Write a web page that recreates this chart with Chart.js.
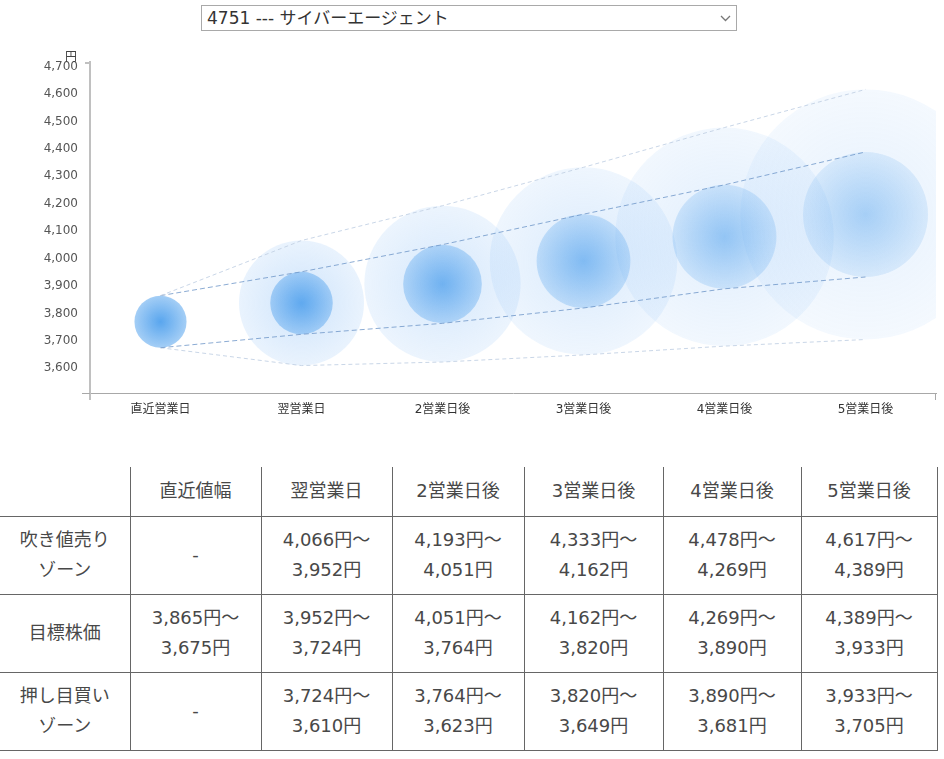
<!DOCTYPE html>
<html lang="ja">
<head>
<meta charset="utf-8">
<title>4751 サイバーエージェント 予想株価</title>
<script src="https://cdn.jsdelivr.net/npm/chart.js@4.4.1/dist/chart.umd.min.js"></script>
<style>
  html, body { margin: 0; padding: 0; background: #fff; }
  body {
    width: 944px; height: 759px; position: relative; overflow: hidden;
    font-family: 'DejaVu Sans', 'Noto Sans CJK JP', sans-serif; color: #444;
  }
  #stock {
    position: absolute; left: 201px; top: 5px; width: 536px; height: 26px;
    box-sizing: border-box; padding: 0 0 0 5px; margin: 0;
    border: 1px solid #a9a9a9; border-radius: 0; color: #333;
    font: 17px 'DejaVu Sans', 'Noto Sans CJK JP', sans-serif;
    -webkit-appearance: none; appearance: none;
    background: #fff url("data:image/svg+xml,%3Csvg xmlns='http://www.w3.org/2000/svg' width='11' height='7'%3E%3Cpath d='M1 1l4.5 4.5L10 1' fill='none' stroke='%23777' stroke-width='1.3'/%3E%3C/svg%3E") no-repeat right 5px center;
  }
  #chart-box { position: absolute; left: 0; top: 36px; width: 944px; height: 400px; }
  #zone-table {
    position: absolute; left: 0; top: 467px; width: 937px;
    border-collapse: collapse; table-layout: fixed;
  }
  #zone-table th, #zone-table td {
    border: 1px solid #666; padding: 0; text-align: center; vertical-align: middle;
    font-weight: normal; font-size: 18px; line-height: 30px; color: #484848;
  }
  #zone-table thead th { border-top: none; }
  #zone-table tr > :first-child { border-left: none; }
  #zone-table thead tr { height: 49px; }
  #zone-table tbody tr { height: 78px; }
</style>
</head>
<body>
<select id="stock"><option>4751 --- サイバーエージェント</option></select>
<div id="chart-box"><canvas id="zone-chart"></canvas></div>
<table id="zone-table">
  <colgroup>
    <col style="width:130px"><col style="width:131px"><col style="width:131px"><col style="width:132px">
    <col style="width:139px"><col style="width:138px"><col style="width:136px">
  </colgroup>
  <thead><tr id="head-row"><th></th></tr></thead>
  <tbody id="zone-body"></tbody>
</table>
<script>
// categories
const labels = ['直近営業日', '翌営業日', '2営業日後', '3営業日後', '4営業日後', '5営業日後'];
const tableHeads = ['直近値幅', '翌営業日', '2営業日後', '3営業日後', '4営業日後', '5営業日後'];

// price bands (円)
const sellHigh   = [null, 4066, 4193, 4333, 4478, 4617];   // top of 吹き値売りゾーン
const targetHigh = [3865, 3952, 4051, 4162, 4269, 4389];   // 目標株価 upper
const targetLow  = [3675, 3724, 3764, 3820, 3890, 3933];   // 目標株価 lower
const buyLow     = [null, 3610, 3623, 3649, 3681, 3705];   // bottom of 押し目買いゾーン

// y axis
const yMin = 3510;
const yMax = 4717;
const yTicks = [3600, 3700, 3800, 3900, 4000, 4100, 4200, 4300, 4400, 4500, 4600, 4700];

const fmt = v => v.toLocaleString('en-US');

// dashed guide lines start from today's target band
const outerTop = sellHigh.map((v, i) => v ?? targetHigh[i]);
const outerBottom = buyLow.map((v, i) => v ?? targetLow[i]);

const midOf = (hi, lo) => hi.map((v, i) => v == null ? null : (v + lo[i]) / 2);

// radius of a band in pixels, taken from the y scale
function bandRadius(hi, lo) {
    return ctx => {
        const i = ctx.dataIndex;
        if (ctx.type !== 'data' || hi[i] == null) return 0;
        const y = ctx.chart.scales.y;
        const r = Math.abs(y.getPixelForValue(lo[i]) - y.getPixelForValue(hi[i])) / 2;
        return isFinite(r) ? r : 0;
    };
}

// radial fill, fading further out in time
function bandFill(hi, lo, rgb, alphaAt) {
    return ctx => {
        const i = ctx.dataIndex;
        if (ctx.type !== 'data' || hi[i] == null) return 'rgba(0,0,0,0)';
        const { x, y } = ctx.chart.scales;
        const cx = x.getPixelForValue(i);
        const top = y.getPixelForValue(hi[i]);
        const bottom = y.getPixelForValue(lo[i]);
        const cy = (top + bottom) / 2, r = Math.abs(bottom - top) / 2;
        if (!isFinite(cx) || !isFinite(cy) || !(r > 0)) return 'rgba(0,0,0,0)';
        const [a0, a1] = alphaAt(i);
        const g = ctx.chart.ctx.createRadialGradient(cx, cy, 0, cx, cy, r);
        g.addColorStop(0, `rgba(${rgb},${a0})`);
        g.addColorStop(1, `rgba(${rgb},${a1})`);
        return g;
    };
}

const innerAlpha = i => { const a = 0.85 - 0.095 * i; return [a, a * (0.55 - 0.04 * i)]; };
const outerAlpha = i => { const a = 0.36 - 0.045 * (i - 1); return [a, a * 0.45]; };

function bandSet(label, hi, lo, rgb, alphaAt, order) {
    return {
        label, order, data: midOf(hi, lo), showLine: false, clip: 0,
        pointRadius: bandRadius(hi, lo),
        pointHoverRadius: bandRadius(hi, lo),
        pointBackgroundColor: bandFill(hi, lo, rgb, alphaAt),
        pointBorderWidth: 0
    };
}

function guideLine(data, color, width, dash) {
    return {
        data, order: 0,
        borderColor: color, borderWidth: width, borderDash: dash,
        pointRadius: 0, fill: false, tension: 0, clip: false
    };
}

// axis extras: caps and overhangs, plus the 円 unit
const axisExtras = {
    id: 'axisExtras',
    afterDraw(chart) {
        const { ctx, chartArea: a } = chart;
        ctx.save();
        ctx.strokeStyle = '#c0c0c0';
        ctx.lineWidth = 2;
        ctx.beginPath();
        ctx.moveTo(a.left, a.bottom);
        ctx.lineTo(a.left, a.bottom + 7);
        ctx.moveTo(a.left - 5, a.top + 1);
        ctx.lineTo(a.left, a.top + 1);
        ctx.stroke();
        ctx.strokeStyle = '#a8a8a8';
        ctx.lineWidth = 1;
        ctx.beginPath();
        ctx.moveTo(a.left - 8, a.bottom + 0.5);
        ctx.lineTo(a.left, a.bottom + 0.5);
        ctx.moveTo(a.right - 0.5, a.bottom);
        ctx.lineTo(a.right - 0.5, a.bottom + 7);
        ctx.stroke();
        ctx.fillStyle = '#444';
        ctx.font = "12px 'Noto Sans CJK JP', sans-serif";
        ctx.textAlign = 'center';
        ctx.textBaseline = 'middle';
        ctx.fillText('円', a.left - 19, a.top - 6);
        ctx.restore();
    }
};

Chart.defaults.font.family = "'DejaVu Sans', 'Noto Sans CJK JP', sans-serif";

function initChart() {
    const ctx = document.getElementById('zone-chart').getContext('2d');
    new Chart(ctx, {
        type: 'line',
        data: {
            labels,
            datasets: [
                guideLine(outerTop, 'rgba(195,210,228,0.9)', 1, [4, 3]),
                guideLine(targetHigh, 'rgba(110,150,200,0.8)', 1, [5, 3]),
                guideLine(targetLow, 'rgba(110,150,200,0.8)', 1, [5, 3]),
                guideLine(outerBottom, 'rgba(195,210,228,0.9)', 1, [4, 3]),
                bandSet('目標株価', targetHigh, targetLow, '60,150,235', innerAlpha, 1),
                bandSet('ゾーン', sellHigh, buyLow, '120,180,245', outerAlpha, 2)
            ]
        },
        options: {
            responsive: true,
            maintainAspectRatio: false,
            animation: false,
            events: [],
            layout: { padding: { top: 26, right: 8, left: 0, bottom: 0 } },
            plugins: { legend: { display: false }, tooltip: { enabled: false } },
            scales: {
                x: {
                    type: 'category', offset: true,
                    grid: { display: false, drawTicks: false },
                    border: { color: '#a8a8a8', width: 1 },
                    ticks: { color: '#333', font: { size: 12 }, padding: 10, maxRotation: 0 },
                    afterFit: s => { s.height = 43; }
                },
                y: {
                    type: 'linear', min: yMin, max: yMax,
                    grid: { display: false, drawTicks: false },
                    border: { color: '#c0c0c0', width: 2 },
                    ticks: { color: '#555', font: { size: 12 }, padding: 12, callback: v => fmt(v) },
                    afterBuildTicks: s => { s.ticks = yTicks.map(v => ({ value: v })); },
                    afterFit: s => { s.width = 90; }
                }
            }
        },
        plugins: [axisExtras]
    });
}

function populateTable() {
    const head = document.getElementById('head-row');
    tableHeads.forEach(h => {
        const th = document.createElement('th');
        th.textContent = h;
        head.appendChild(th);
    });
    const rows = [
        ['吹き値売り<br>ゾーン', i => sellHigh[i] == null ? '-' : `${fmt(sellHigh[i])}円～<br>${fmt(targetHigh[i])}円`],
        ['目標株価', i => `${fmt(targetHigh[i])}円～<br>${fmt(targetLow[i])}円`],
        ['押し目買い<br>ゾーン', i => buyLow[i] == null ? '-' : `${fmt(targetLow[i])}円～<br>${fmt(buyLow[i])}円`]
    ];
    const tbody = document.getElementById('zone-body');
    rows.forEach(([name, cell]) => {
        const row = tbody.insertRow();
        row.insertCell(0).innerHTML = name;
        labels.forEach((l, i) => { row.insertCell(i + 1).innerHTML = cell(i); });
    });
}

populateTable();
initChart();
</script>
</body>
</html>
